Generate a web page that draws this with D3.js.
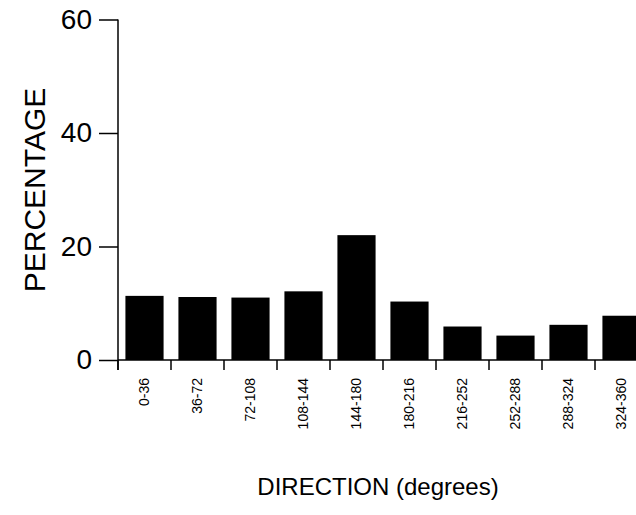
<!DOCTYPE html>
<html>
<head>
<meta charset="utf-8">
<script src="https://cdn.jsdelivr.net/npm/d3@7"></script>
<style>
  html, body { margin: 0; padding: 0; background: #fff; }
  svg { display: block; }
  text { font-family: "Liberation Sans", Arial, Helvetica, sans-serif; fill: #000; }
</style>
</head>
<body>
<svg id="chart" width="636" height="515"></svg>
<script>
const categories = ["0-36", "36-72", "72-108", "108-144", "144-180", "180-216", "216-252", "252-288", "288-324", "324-360"];
const percentages = [11.3, 11.1, 11.0, 12.1, 22.0, 10.3, 5.9, 4.3, 6.2, 7.8];
const yTicks = [0, 20, 40, 60];
const xTitle = "DIRECTION (degrees)";
const yTitle = "PERCENTAGE";

const svg = d3.select("#chart");
const x0 = 118, x1 = 648, yBottom = 360, yTop = 19.5;

const x = d3.scaleBand().domain(categories).range([x0, x1]).paddingInner(0.28).paddingOuter(0.14);
const y = d3.scaleLinear().domain([0, 60]).range([yBottom, yTop]);
const step = x.step();
const gap = (step - x.bandwidth()) / 2;

// bars
svg.append("g").selectAll("rect").data(categories).join("rect")
  .attr("x", d => x(d))
  .attr("width", x.bandwidth())
  .attr("y", (d, i) => y(percentages[i]))
  .attr("height", (d, i) => y(0) - y(percentages[i]))
  .attr("fill", "#000");

// x axis baseline
svg.append("line").attr("x1", x0).attr("x2", 636).attr("y1", y(0)).attr("y2", y(0))
  .attr("stroke", "#000").attr("stroke-width", 1.5);
// x boundary ticks
svg.append("g").selectAll("line").data(categories).join("line")
  .attr("x1", d => x(d) - gap).attr("x2", d => x(d) - gap)
  .attr("y1", y(0)).attr("y2", y(0) + 10)
  .attr("stroke", "#000").attr("stroke-width", 1.5);
// x labels
svg.append("g").selectAll("text").data(categories).join("text")
  .attr("transform", d => `translate(${x(d) + x.bandwidth() / 2},378) rotate(-90)`)
  .attr("text-anchor", "end")
  .attr("dy", "0.35em")
  .style("font-size", "14px")
  .text(d => d);

// y axis
const yAxis = d3.axisLeft(y).tickValues(yTicks).tickSize(19).tickPadding(7).tickFormat(d3.format("d"));
const gy = svg.append("g").attr("transform", `translate(${x0},0)`).call(yAxis);
gy.select(".domain").remove();
gy.selectAll(".tick line").attr("stroke", "#000").attr("stroke-width", 1.5);
gy.selectAll(".tick text").style("font-size", "28px")
  .attr("font-family", "Liberation Sans, Arial, sans-serif").attr("fill", "#000");
svg.append("line").attr("x1", x0).attr("x2", x0).attr("y1", yTop).attr("y2", y(0) + 10)
  .attr("stroke", "#000").attr("stroke-width", 1.5);

// titles
svg.append("text")
  .attr("transform", "translate(45,190) rotate(-90)")
  .attr("text-anchor", "middle")
  .style("font-size", "30px")
  .text(yTitle);
svg.append("text")
  .attr("x", 378).attr("y", 495)
  .attr("text-anchor", "middle")
  .style("font-size", "24px")
  .text(xTitle);
</script>
</body>
</html>
